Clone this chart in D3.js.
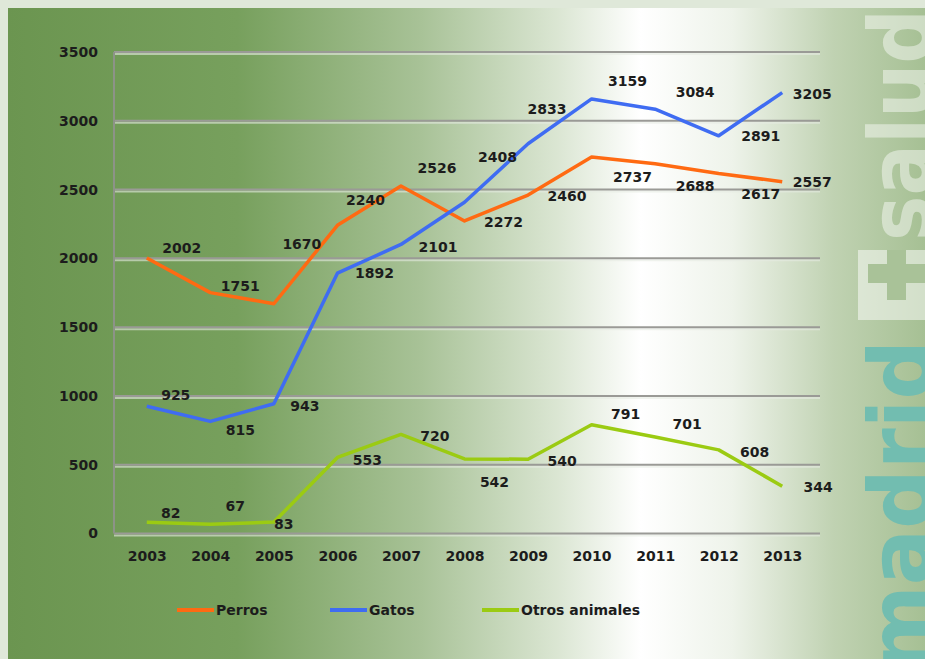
<!DOCTYPE html>
<html>
<head>
<meta charset="utf-8">
<script src="https://cdn.jsdelivr.net/npm/d3@7"></script>
<style>
  body { margin: 0; background: #dfe8d9; }
  svg { display: block; }
  .lbl { font-family: "DejaVu Sans", sans-serif; font-weight: bold; font-size: 14px; fill: #1c1c1c; }
</style>
</head>
<body>
<div id="chart"></div>
<script>
// Datos
const years = ["2003", "2004", "2005", "2006", "2007", "2008", "2009", "2010", "2011", "2012", "2013"];
const perros = [2002, 1751, 1670, 2240, 2526, 2272, 2460, 2737, 2688, 2617, 2557];
const gatos = [925, 815, 943, 1892, 2101, 2408, 2833, 3159, 3084, 2891, 3205];
const otros = [82, 67, 83, 553, 720, 542, 540, 791, 701, 608, 344];
const yTicks = [0, 500, 1000, 1500, 2000, 2500, 3000, 3500];

// desplazamiento de las etiquetas respecto al punto
const offPerros = [[35,-10],[30,-7],[28,-60],[28,-25],[36,-18],[39,1],[39,1],[41,20],[40,22],[42,20],[30,0]];
const offGatos = [[29,-11],[30,9],[31,2],[37,0],[37,2],[33,-45],[19,-35],[36,-18],[40,-17],[42,0],[30,1]];
const offOtros = [[24,-9],[25,-18],[10,2],[30,3],[34,2],[30,23],[34,2],[34,-11],[32,-13],[36,2],[36,1]];

const width = 925, height = 659;
const margin = { top: 52, right: 111, bottom: 126, left: 115 };

const svg = d3.select("#chart").append("svg")
    .attr("width", width)
    .attr("height", height);

const defs = svg.append("defs");
const bg = defs.append("linearGradient").attr("id", "bg").attr("x1", 0).attr("x2", 1).attr("y1", 0).attr("y2", 0);
[[0, "#6b9550"], [0.25, "#77a05d"], [0.45, "#a8c297"], [0.6, "#dbe6d3"], [0.69, "#ffffff"],
 [0.79, "#eef3ea"], [0.9, "#c0d2b2"], [1, "#a6c094"]].forEach(s =>
    bg.append("stop").attr("offset", s[0]).attr("stop-color", s[1]));

// Fondo
svg.append("rect").attr("width", width).attr("height", height).attr("fill", "#dfe8d9");
svg.append("rect").attr("x", 8).attr("y", 8).attr("width", width - 8).attr("height", height - 8).attr("fill", "url(#bg)");

// Logo vertical "madrid + salud"
const logo = svg.append("g").attr("font-family", "DejaVu Sans").attr("font-weight", "bold").attr("font-size", 88);
logo.append("text")
    .attr("transform", "translate(931,672) rotate(-90)")
    .attr("textLength", 332).attr("lengthAdjust", "spacingAndGlyphs")
    .attr("fill", "#72bdb0")
    .text("madrid");
logo.append("text")
    .attr("transform", "translate(931,241) rotate(-90)")
    .attr("textLength", 232).attr("lengthAdjust", "spacingAndGlyphs")
    .attr("fill", "#ffffff").attr("fill-opacity", 0.45)
    .text("salud");
logo.append("rect")
    .attr("x", 858).attr("y", 250).attr("width", 67).attr("height", 70)
    .attr("fill", "#ffffff").attr("fill-opacity", 0.5);
logo.append("rect")
    .attr("x", 868).attr("y", 264).attr("width", 57).attr("height", 19)
    .attr("fill", "#a9c298");
logo.append("rect")
    .attr("x", 887).attr("y", 250).attr("width", 19).attr("height", 50)
    .attr("fill", "#a9c298");

const x = d3.scalePoint().domain(years).range([margin.left, width - margin.right]).padding(0.5);
const y = d3.scaleLinear().domain([0, 3500]).range([height - margin.bottom + 0.5, margin.top]);

const gx1 = margin.left - 1, gx2 = 820;

// Cuadrícula
const grid = svg.append("g");
grid.selectAll("line.sh").data(yTicks).join("line")
    .attr("x1", gx1).attr("x2", gx2)
    .attr("y1", d => y(d) + 2).attr("y2", d => y(d) + 2)
    .attr("stroke", "#e6ebe2").attr("stroke-opacity", 0.6).attr("stroke-width", 2);
grid.selectAll("line.g").data(yTicks).join("line")
    .attr("x1", gx1).attr("x2", gx2)
    .attr("y1", d => y(d)).attr("y2", d => y(d))
    .attr("stroke", "#9a9a96").attr("stroke-width", 2);
svg.append("line")
    .attr("x1", gx1).attr("x2", gx1)
    .attr("y1", y(3500)).attr("y2", y(0))
    .attr("stroke", "#8d9388").attr("stroke-width", 2);

// Ejes
const yAxis = svg.append("g")
    .attr("transform", `translate(${margin.left - 17},0)`)
    .call(d3.axisLeft(y).tickValues(yTicks).tickFormat(d3.format("d")).tickSize(0).tickPadding(0));
yAxis.select(".domain").remove();
yAxis.selectAll("text").attr("class", "lbl").attr("dy", "0.32em");

const xAxis = svg.append("g")
    .attr("transform", `translate(0,${y(0) + 23})`)
    .call(d3.axisBottom(x).tickSize(0).tickPadding(0));
xAxis.select(".domain").remove();
xAxis.selectAll("text").attr("class", "lbl").attr("dy", "0.32em");

// Series
const series = [
    { name: "Perros", values: perros, off: offPerros, color: "#ff6a12" },
    { name: "Gatos", values: gatos, off: offGatos, color: "#3f6cf2" },
    { name: "Otros animales", values: otros, off: offOtros, color: "#9bcb12" }
];

const line = d3.line().x((d, i) => x(years[i])).y(d => y(d));

series.forEach(s => {
    svg.append("path")
        .attr("d", line(s.values))
        .attr("fill", "none")
        .attr("stroke", s.color)
        .attr("stroke-width", 3.5)
        .attr("stroke-linejoin", "round");
});

series.forEach(s => {
    svg.append("g").selectAll("text").data(s.values).join("text")
        .attr("class", "lbl")
        .attr("text-anchor", "middle")
        .attr("dy", "0.36em")
        .attr("x", (d, i) => x(years[i]) + s.off[i][0])
        .attr("y", (d, i) => y(d) + s.off[i][1])
        .text(d => d);
});

// Leyenda
const legendX = [177, 330, 482];
const legend = svg.append("g").attr("transform", "translate(0,610)");
series.forEach((s, i) => {
    legend.append("line")
        .attr("x1", legendX[i]).attr("x2", legendX[i] + 37)
        .attr("stroke", s.color).attr("stroke-width", 4);
    legend.append("text")
        .attr("class", "lbl")
        .attr("font-size", 12)
        .attr("x", legendX[i] + 39)
        .attr("dy", "0.35em")
        .text(s.name);
});
</script>
</body>
</html>
